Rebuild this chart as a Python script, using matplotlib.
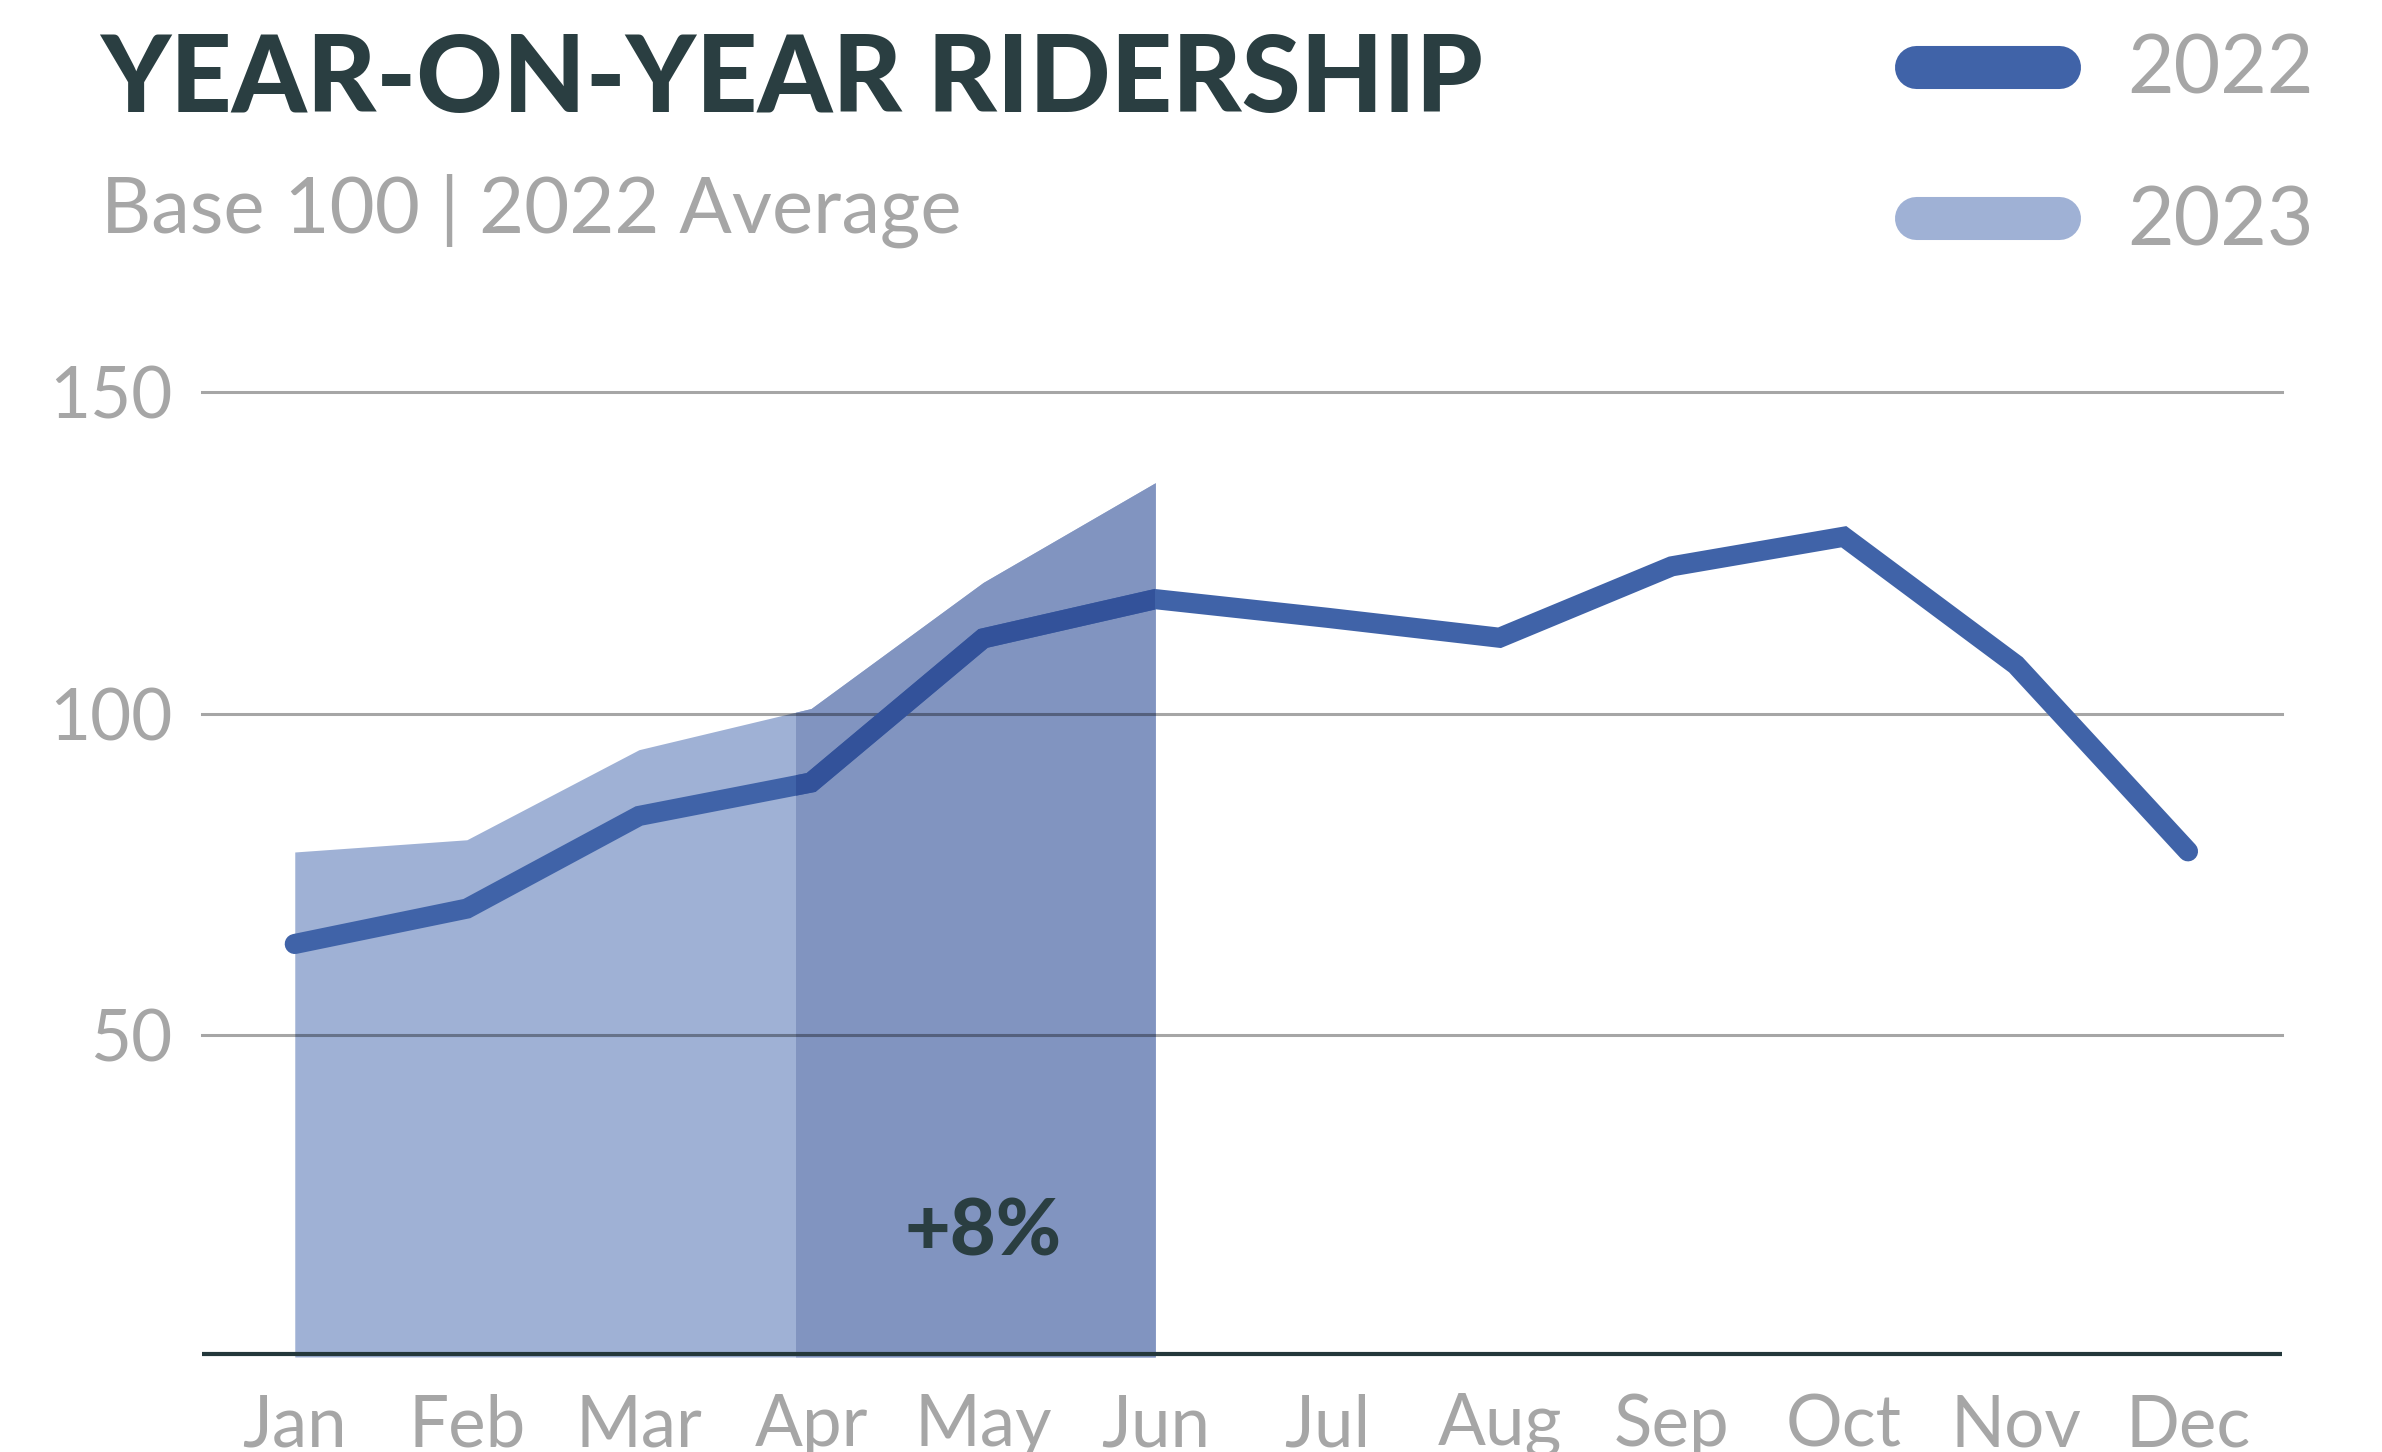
import numpy as np
import matplotlib.pyplot as plt
from matplotlib.lines import Line2D
from matplotlib.patches import Rectangle

# values (base 100 = 2022 average)
months = ["Jan", "Feb", "Mar", "Apr", "May", "Jun",
          "Jul", "Aug", "Sep", "Oct", "Nov", "Dec"]
riders_2022 = [64.2, 69.7, 84.1, 89.3, 111.7, 117.8,
               114.9, 111.8, 122.9, 127.5, 107.6, 78.6]
riders_2023 = [78.5, 80.4, 94.4, 100.8, 120.4, 135.9]
yticks = [50, 100, 150]
highlight_from = 2.915   # start of the darker band (just before Apr)
growth_label = "+8%"

C_2022 = "#4063A8"
C_2022_DARK = "#33529A"
C_2023 = "#9FB1D5"
C_2023_DARK = "#8194C0"
C_TEXT = "#2A3E41"
C_GREY = "#A6A6A6"

plt.rcParams["font.family"] = ["Lato", "DejaVu Sans"]

fig = plt.figure(figsize=(23.82, 14.52), dpi=100)
ax = fig.add_axes([0.0848, 0.06543, 0.8732, 0.6646])

x22 = np.arange(len(riders_2022))
x23 = np.arange(len(riders_2023))

# 2023 area, light then darker band on the right part
ax.fill_between(x23, 0, riders_2023, color=C_2023, lw=0, zorder=1)
band = Rectangle((highlight_from, 0), x23[-1] - highlight_from, 200,
                 transform=ax.transData, visible=False)
ax.add_patch(band)
dark = ax.fill_between(x23, 0, riders_2023, color=C_2023_DARK, lw=0, zorder=1.1)
dark.set_clip_path(band)

# gridlines
for t in yticks:
    ax.axhline(t, color="black", alpha=0.35, lw=2.2, zorder=2, clip_on=False)
ax.axhline(0.5, color="#24383B", lw=3.0, zorder=4)

# 2022 line
ax.plot(x22, riders_2022, color=C_2022, lw=14.5, solid_capstyle="round",
        solid_joinstyle="miter", zorder=3)
dl, = ax.plot(x22, riders_2022, color=C_2022_DARK, lw=14.5,
              solid_capstyle="butt", solid_joinstyle="miter", zorder=3.1)
dl.set_clip_path(band)

ax.text(4, 15.8, growth_label, ha="center", va="baseline", fontsize=57,
        fontweight="black", color=C_TEXT, zorder=5)

ax.set_xlim(-0.539, 11.546)
ax.set_ylim(0, 150)
ax.set_xticks(x22, months)
ax.set_yticks(yticks, [str(t) for t in yticks])
ax.tick_params(axis="both", length=0, labelsize=51, labelcolor=C_GREY)
ax.tick_params(axis="x", pad=26)
ax.tick_params(axis="y", pad=21.5)
for s in ax.spines.values():
    s.set_visible(False)
ax.set_facecolor("none")

# title block
fig.text(0.042, 0.9231, "YEAR-ON-YEAR RIDERSHIP", fontsize=77, fontweight="black",
         color=C_TEXT, ha="left", va="baseline")
fig.text(0.0424, 0.8395, "Base 100 | 2022 Average", fontsize=56,
         color=C_GREY, ha="left", va="baseline")

# legend
for yc, yb, col, lab in [(0.9542, 0.9353, C_2022, "2022"),
                         (0.8499, 0.831, C_2023, "2023")]:
    fig.add_artist(Line2D([0.8045, 0.8645], [yc, yc], color=col, lw=31,
                          solid_capstyle="round", transform=fig.transFigure))
    fig.text(0.8932, yb, lab, fontsize=58, color=C_GREY, ha="left", va="baseline")

fig.savefig("out.png", dpi=100)
